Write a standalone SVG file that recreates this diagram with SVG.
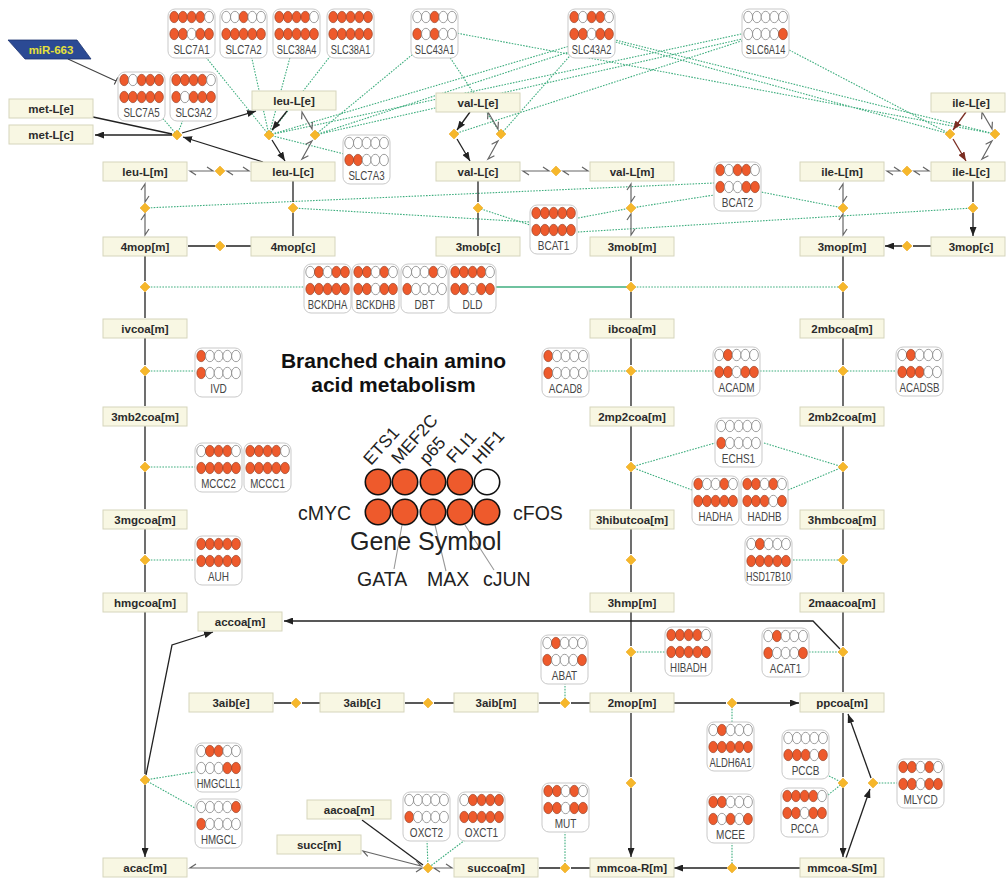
<svg xmlns="http://www.w3.org/2000/svg" xmlns:xlink="http://www.w3.org/1999/xlink" width="1006" height="881" viewBox="0 0 1006 881">
<style>
.mb{fill:#f8f7e3;stroke:#d6d5bc;stroke-width:1}
.mt{font:bold 11.5px "Liberation Sans",Arial,sans-serif;fill:#2b2b2b;text-anchor:middle}
.gb{fill:#fff;stroke:#c9c9c9;stroke-width:1}
.gl{font:12.5px "Liberation Sans",Arial,sans-serif;fill:#454545;text-anchor:middle}
.ar{stroke:#222;stroke-width:1.3;fill:none;marker-end:url(#ah)}
.pl{stroke:#222;stroke-width:1.3;fill:none}
.br{stroke:#7b2d22;stroke-width:1.3;fill:none;marker-end:url(#ahb)}
.hv{stroke:#666;stroke-width:1.2;fill:none}
.en{stroke:#3fae7f;stroke-width:1.1;stroke-dasharray:1.6 1.3;fill:none}
.es{stroke:#3fae7f;stroke-width:1.6;fill:none}
.lg{font:19.5px "Liberation Sans",Arial,sans-serif;fill:#222}
.lr{font:17.5px "Liberation Sans",Arial,sans-serif;fill:#222}
.tt{font:bold 21px "Liberation Sans",Arial,sans-serif;fill:#111;text-anchor:middle}
.lc{stroke:#111;stroke-width:1.6}
</style>
<defs>
<marker id="ah" viewBox="0 0 9 7" refX="9" refY="3.5" markerWidth="9" markerHeight="7" markerUnits="userSpaceOnUse" orient="auto"><path d="M0,0L9,3.5L0,7z" fill="#222"/></marker>
<marker id="ahb" viewBox="0 0 9 7" refX="9" refY="3.5" markerWidth="9" markerHeight="7" markerUnits="userSpaceOnUse" orient="auto"><path d="M0,0L9,3.5L0,7z" fill="#7b2d22"/></marker>
<path id="dm" d="M0,-5L5,0L0,5L-5,0z" fill="#f6b72b" stroke="#eaa51c" stroke-width="0.5"/>
<ellipse id="on" rx="4.4" ry="5.7" fill="#ee5a2c" stroke="#8a3a22" stroke-width="0.6"/>
<ellipse id="of" rx="4.4" ry="5.7" fill="#fff" stroke="#777" stroke-width="0.7"/>
<g id="p11110"><use href="#on" x="6.2"/><use href="#on" x="14.9"/><use href="#on" x="23.6"/><use href="#on" x="32.3"/><use href="#of" x="41"/></g>
<g id="p11011"><use href="#on" x="6.2"/><use href="#on" x="14.9"/><use href="#of" x="23.6"/><use href="#on" x="32.3"/><use href="#on" x="41"/></g>
<g id="p00100"><use href="#of" x="6.2"/><use href="#of" x="14.9"/><use href="#on" x="23.6"/><use href="#of" x="32.3"/><use href="#of" x="41"/></g>
<g id="p11111"><use href="#on" x="6.2"/><use href="#on" x="14.9"/><use href="#on" x="23.6"/><use href="#on" x="32.3"/><use href="#on" x="41"/></g>
<g id="p10100"><use href="#on" x="6.2"/><use href="#of" x="14.9"/><use href="#on" x="23.6"/><use href="#of" x="32.3"/><use href="#of" x="41"/></g>
<g id="p10110"><use href="#on" x="6.2"/><use href="#of" x="14.9"/><use href="#on" x="23.6"/><use href="#on" x="32.3"/><use href="#of" x="41"/></g>
<g id="p00000"><use href="#of" x="6.2"/><use href="#of" x="14.9"/><use href="#of" x="23.6"/><use href="#of" x="32.3"/><use href="#of" x="41"/></g>
<g id="p00001"><use href="#of" x="6.2"/><use href="#of" x="14.9"/><use href="#of" x="23.6"/><use href="#of" x="32.3"/><use href="#on" x="41"/></g>
<g id="p10111"><use href="#on" x="6.2"/><use href="#of" x="14.9"/><use href="#on" x="23.6"/><use href="#on" x="32.3"/><use href="#on" x="41"/></g>
<g id="p11000"><use href="#on" x="6.2"/><use href="#on" x="14.9"/><use href="#of" x="23.6"/><use href="#of" x="32.3"/><use href="#of" x="41"/></g>
<g id="p10011"><use href="#on" x="6.2"/><use href="#of" x="14.9"/><use href="#of" x="23.6"/><use href="#on" x="32.3"/><use href="#on" x="41"/></g>
<g id="p01011"><use href="#of" x="6.2"/><use href="#on" x="14.9"/><use href="#of" x="23.6"/><use href="#on" x="32.3"/><use href="#on" x="41"/></g>
<g id="p11010"><use href="#on" x="6.2"/><use href="#on" x="14.9"/><use href="#of" x="23.6"/><use href="#on" x="32.3"/><use href="#of" x="41"/></g>
<g id="p00010"><use href="#of" x="6.2"/><use href="#of" x="14.9"/><use href="#of" x="23.6"/><use href="#on" x="32.3"/><use href="#of" x="41"/></g>
<g id="p10000"><use href="#on" x="6.2"/><use href="#of" x="14.9"/><use href="#of" x="23.6"/><use href="#of" x="32.3"/><use href="#of" x="41"/></g>
<g id="p01000"><use href="#of" x="6.2"/><use href="#on" x="14.9"/><use href="#of" x="23.6"/><use href="#of" x="32.3"/><use href="#of" x="41"/></g>
<g id="p11100"><use href="#on" x="6.2"/><use href="#on" x="14.9"/><use href="#on" x="23.6"/><use href="#of" x="32.3"/><use href="#of" x="41"/></g>
<g id="p01110"><use href="#of" x="6.2"/><use href="#on" x="14.9"/><use href="#on" x="23.6"/><use href="#on" x="32.3"/><use href="#of" x="41"/></g>
<g id="p10010"><use href="#on" x="6.2"/><use href="#of" x="14.9"/><use href="#of" x="23.6"/><use href="#on" x="32.3"/><use href="#of" x="41"/></g>
<g id="p11101"><use href="#on" x="6.2"/><use href="#on" x="14.9"/><use href="#on" x="23.6"/><use href="#of" x="32.3"/><use href="#on" x="41"/></g>
<g id="p10001"><use href="#on" x="6.2"/><use href="#of" x="14.9"/><use href="#of" x="23.6"/><use href="#of" x="32.3"/><use href="#on" x="41"/></g>
<g id="p10101"><use href="#on" x="6.2"/><use href="#of" x="14.9"/><use href="#on" x="23.6"/><use href="#of" x="32.3"/><use href="#on" x="41"/></g>
<g id="p01111"><use href="#of" x="6.2"/><use href="#on" x="14.9"/><use href="#on" x="23.6"/><use href="#on" x="32.3"/><use href="#on" x="41"/></g>
<g id="p01100"><use href="#of" x="6.2"/><use href="#on" x="14.9"/><use href="#on" x="23.6"/><use href="#of" x="32.3"/><use href="#of" x="41"/></g>
<g id="p00011"><use href="#of" x="6.2"/><use href="#of" x="14.9"/><use href="#of" x="23.6"/><use href="#on" x="32.3"/><use href="#on" x="41"/></g>
</defs>
<rect width="1006" height="881" fill="#fff"/>

<g id="connectors">
<g id="enzyme-links">
<path class="en" d="M177,135L160,115M177,135L185,115"/>
<path class="en" d="M269,135L200,50M269,135L250,50M269,135L292,50M269,135L335,50M269,135L360,158M269,135L590,40M269,135L760,30"/>
<path class="en" d="M315,135L430,40M315,135L590,45M315,135L760,35"/>
<path class="en" d="M454,134L760,35M501,134L445,50M501,134L575,50"/>
<path class="en" d="M950,134L770,40M950,134L590,35M995,134L440,30M995,134L595,35"/>
<path class="en" d="M145,208L714,183M293,208L530,222M478,208L530,225M631,208L578,218M631,208L714,195M843,208L761,192M973,208L578,232"/>
<path class="en" d="M145,287H304M631,287H843"/>
<path class="es" d="M496,287H631"/>
<path class="en" d="M145,371H195M589,371H713M760,371H896"/>
<path class="en" d="M145,467H195M631,467L715,443M764,443L843,467M631,467L692,490M788,490L843,467"/>
<path class="en" d="M145,560H195M793,560H843M631,652H665M809,652H843"/>
<path class="en" d="M565,683V703M732,703V722M829,776L843,783M828,795L843,783M873,783H897M732,842V868M565,831V868M427,840L428,868M465,840L428,868"/>
<path class="en" d="M145,780L195,772M145,780L195,808"/>
</g>
<g id="reaction-edges">
<path class="pl" d="M93,117L172,134"/>
<path class="ar" d="M172,135H95"/>
<path class="ar" d="M263,162L183,137"/>
<path class="ar" d="M182,133L256,111"/>
<path class="ar" d="M287,111L272,130"/>
<path class="ar" d="M272,140L285,161"/>
<path class="ar" d="M470,112L457,130"/>
<path class="ar" d="M457,139L470,161"/>
<path class="br" d="M966,112L953,130"/>
<path class="br" d="M953,139L966,161"/>
<path class="ar" d="M293,181V202M293,213V236M478,181V202M478,213V236M973,181V202M973,213V236"/>
<path class="ar" d="M251,246H226M215,246H188M931,246H913M902,246H885"/>
<path class="ar" d="M145,256V281M145,292V318M145,338V365M145,376V406M145,426V461M145,472V509M145,529V554M145,565V592M145,612V774M145,785V857"/>
<path class="ar" d="M631,256V281M631,292V318M631,338V365M631,376V406M631,426V461M631,472V509M631,529V554M631,565V592M631,612V646M631,657V692M631,713V777M631,788V857"/>
<path class="ar" d="M843,256V281M843,292V318M843,338V365M843,376V406M843,426V461M843,472V509M843,529V554M843,565V592M843,612V646M843,657V692M843,713V777M843,788V857"/>
<path class="ar" d="M590,703H571M560,703H539M454,703H434M423,703H405M320,703H302M291,703H274M673,703H726M737,703H799"/>
<path class="ar" d="M590,868H571M560,868H539M800,868H738M727,868H674"/>
<path class="ar" d="M846,858L870,789"/>
<path class="ar" d="M871,778L848,714"/>
<path class="ar" d="M840,649L813,621H284"/>
<path class="ar" d="M146,775L172,645L213,632"/>
<path class="pl" d="M362,820L423,865"/>
<path class="hv" d="M196,175L190,171H213L207,167M233,175L227,171H249L243,167"/>
<path class="hv" d="M529,175L523,171H549L543,167M569,175L563,171H588L582,167"/>
<path class="hv" d="M893,175L887,171H900L894,167M920,175L914,171H929L923,167"/>
<path class="hv" d="M141,190L145,184V202L149,196M141,220L145,214V235L149,229"/>
<path class="hv" d="M627,190L631,184V202L635,196M627,220L631,214V235L635,229"/>
<path class="hv" d="M839,190L843,184V202L847,196M839,220L843,214V235L847,229"/>
<path class="hv" d="M301.6,119.2L302,112L312,129L312.4,121.8M305.6,144.3L312,141L302,159L308.4,155.7"/>
<path class="hv" d="M487.6,119.2L488,112L498,129L498.4,121.8M491.6,144.3L498,141L488,159L494.4,155.7"/>
<path class="hv" d="M981.6,119.2L982,112L992,129L992.4,121.8M985.6,144.3L992,141L982,159L988.4,155.7"/>
<path class="hv" d="M196,864L190,868H422L416,872M367.8,856.4L363,851L421,866L416.2,860.6M440,872L434,868H452L446,864"/>
<path d="M68,59L116,81M117.7,77.4L114.3,84.6" stroke="#444" stroke-width="1.1" fill="none"/>
</g>
</g>

<g id="mir">
<polygon points="8,40 77,40 91,59 25,59" fill="#2b4a94" stroke="#1d3470" stroke-width="0.8"/>
<text x="51" y="54" text-anchor="middle" font-family="Liberation Sans, Arial, sans-serif" font-weight="bold" font-size="11.5" fill="#e6e13a">miR-663</text>
</g>

<g id="metabolites">
<g id="met-L_e"><rect class="mb" x="9" y="99" width="84" height="19"/><text class="mt" x="51" y="113">met-L[e]</text></g>
<g id="met-L_c"><rect class="mb" x="9" y="125" width="84" height="19"/><text class="mt" x="51" y="139">met-L[c]</text></g>
<g id="leu-L_e"><rect class="mb" x="252" y="91" width="84" height="19"/><text class="mt" x="294" y="105">leu-L[e]</text></g>
<g id="leu-L_m"><rect class="mb" x="103" y="162" width="84" height="19"/><text class="mt" x="145" y="176">leu-L[m]</text></g>
<g id="leu-L_c"><rect class="mb" x="251" y="162" width="84" height="19"/><text class="mt" x="293" y="176">leu-L[c]</text></g>
<g id="val-L_e"><rect class="mb" x="436" y="93" width="84" height="19"/><text class="mt" x="478" y="107">val-L[e]</text></g>
<g id="val-L_c"><rect class="mb" x="436" y="162" width="84" height="19"/><text class="mt" x="478" y="176">val-L[c]</text></g>
<g id="val-L_m"><rect class="mb" x="590" y="162" width="84" height="19"/><text class="mt" x="632" y="176">val-L[m]</text></g>
<g id="ile-L_e"><rect class="mb" x="931" y="93" width="74" height="19"/><text class="mt" x="971" y="107">ile-L[e]</text></g>
<g id="ile-L_m"><rect class="mb" x="800" y="162" width="84" height="19"/><text class="mt" x="842" y="176">ile-L[m]</text></g>
<g id="ile-L_c"><rect class="mb" x="931" y="162" width="74" height="19"/><text class="mt" x="971" y="176">ile-L[c]</text></g>
<g id="4mop_m"><rect class="mb" x="103" y="237" width="84" height="19"/><text class="mt" x="145" y="251">4mop[m]</text></g>
<g id="4mop_c"><rect class="mb" x="251" y="237" width="84" height="19"/><text class="mt" x="293" y="251">4mop[c]</text></g>
<g id="3mob_c"><rect class="mb" x="436" y="237" width="84" height="19"/><text class="mt" x="478" y="251">3mob[c]</text></g>
<g id="3mob_m"><rect class="mb" x="590" y="237" width="84" height="19"/><text class="mt" x="632" y="251">3mob[m]</text></g>
<g id="3mop_m"><rect class="mb" x="800" y="237" width="84" height="19"/><text class="mt" x="842" y="251">3mop[m]</text></g>
<g id="3mop_c"><rect class="mb" x="931" y="237" width="74" height="19"/><text class="mt" x="971" y="251">3mop[c]</text></g>
<g id="ivcoa_m"><rect class="mb" x="103" y="319" width="84" height="19"/><text class="mt" x="145" y="333">ivcoa[m]</text></g>
<g id="ibcoa_m"><rect class="mb" x="590" y="319" width="84" height="19"/><text class="mt" x="632" y="333">ibcoa[m]</text></g>
<g id="2mbcoa_m"><rect class="mb" x="800" y="319" width="84" height="19"/><text class="mt" x="842" y="333">2mbcoa[m]</text></g>
<g id="3mb2coa_m"><rect class="mb" x="103" y="407" width="84" height="19"/><text class="mt" x="145" y="421">3mb2coa[m]</text></g>
<g id="2mp2coa_m"><rect class="mb" x="590" y="407" width="84" height="19"/><text class="mt" x="632" y="421">2mp2coa[m]</text></g>
<g id="2mb2coa_m"><rect class="mb" x="800" y="407" width="84" height="19"/><text class="mt" x="842" y="421">2mb2coa[m]</text></g>
<g id="3mgcoa_m"><rect class="mb" x="103" y="510" width="84" height="19"/><text class="mt" x="145" y="524">3mgcoa[m]</text></g>
<g id="3hibutcoa_m"><rect class="mb" x="590" y="510" width="84" height="19"/><text class="mt" x="632" y="524">3hibutcoa[m]</text></g>
<g id="3hmbcoa_m"><rect class="mb" x="800" y="510" width="84" height="19"/><text class="mt" x="842" y="524">3hmbcoa[m]</text></g>
<g id="hmgcoa_m"><rect class="mb" x="103" y="593" width="84" height="19"/><text class="mt" x="145" y="607">hmgcoa[m]</text></g>
<g id="3hmp_m"><rect class="mb" x="590" y="593" width="84" height="19"/><text class="mt" x="632" y="607">3hmp[m]</text></g>
<g id="2maacoa_m"><rect class="mb" x="800" y="593" width="84" height="19"/><text class="mt" x="842" y="607">2maacoa[m]</text></g>
<g id="accoa_m"><rect class="mb" x="198" y="612" width="84" height="19"/><text class="mt" x="240" y="626">accoa[m]</text></g>
<g id="3aib_e"><rect class="mb" x="189" y="693" width="84" height="19"/><text class="mt" x="231" y="707">3aib[e]</text></g>
<g id="3aib_c"><rect class="mb" x="320" y="693" width="84" height="19"/><text class="mt" x="362" y="707">3aib[c]</text></g>
<g id="3aib_m"><rect class="mb" x="454" y="693" width="84" height="19"/><text class="mt" x="496" y="707">3aib[m]</text></g>
<g id="2mop_m"><rect class="mb" x="590" y="693" width="84" height="19"/><text class="mt" x="632" y="707">2mop[m]</text></g>
<g id="ppcoa_m"><rect class="mb" x="800" y="693" width="84" height="19"/><text class="mt" x="842" y="707">ppcoa[m]</text></g>
<g id="aacoa_m"><rect class="mb" x="307" y="800" width="84" height="19"/><text class="mt" x="349" y="814">aacoa[m]</text></g>
<g id="succ_m"><rect class="mb" x="277" y="835" width="84" height="19"/><text class="mt" x="319" y="849">succ[m]</text></g>
<g id="acac_m"><rect class="mb" x="103" y="858" width="84" height="19"/><text class="mt" x="145" y="872">acac[m]</text></g>
<g id="succoa_m"><rect class="mb" x="454" y="858" width="84" height="19"/><text class="mt" x="496" y="872">succoa[m]</text></g>
<g id="mmcoa-R_m"><rect class="mb" x="590" y="858" width="84" height="19"/><text class="mt" x="632" y="872">mmcoa-R[m]</text></g>
<g id="mmcoa-S_m"><rect class="mb" x="800" y="858" width="84" height="19"/><text class="mt" x="842" y="872">mmcoa-S[m]</text></g>
</g>

<g id="genes">
<g id="SLC7A1" transform="translate(168,9)"><rect class="gb" width="47" height="49" rx="7"/><use href="#p11110" y="8"/><use href="#p11011" y="25"/><text class="gl" transform="translate(23.5,45) scale(.78,1)">SLC7A1</text></g>
<g id="SLC7A2" transform="translate(220,9)"><rect class="gb" width="47" height="49" rx="7"/><use href="#p00100" y="8"/><use href="#p11111" y="25"/><text class="gl" transform="translate(23.5,45) scale(.78,1)">SLC7A2</text></g>
<g id="SLC38A4" transform="translate(273,9)"><rect class="gb" width="47" height="49" rx="7"/><use href="#p11110" y="8"/><use href="#p11111" y="25"/><text class="gl" transform="translate(23.5,45) scale(.74,1)">SLC38A4</text></g>
<g id="SLC38A1" transform="translate(327,9)"><rect class="gb" width="47" height="49" rx="7"/><use href="#p11111" y="8"/><use href="#p11111" y="25"/><text class="gl" transform="translate(23.5,45) scale(.74,1)">SLC38A1</text></g>
<g id="SLC43A1" transform="translate(411,9)"><rect class="gb" width="47" height="49" rx="7"/><use href="#p00100" y="8"/><use href="#p10100" y="25"/><text class="gl" transform="translate(23.5,45) scale(.74,1)">SLC43A1</text></g>
<g id="SLC43A2" transform="translate(568,9)"><rect class="gb" width="47" height="49" rx="7"/><use href="#p10110" y="8"/><use href="#p11011" y="25"/><text class="gl" transform="translate(23.5,45) scale(.74,1)">SLC43A2</text></g>
<g id="SLC6A14" transform="translate(742,9)"><rect class="gb" width="47" height="49" rx="7"/><use href="#p00000" y="8"/><use href="#p00001" y="25"/><text class="gl" transform="translate(23.5,45) scale(.74,1)">SLC6A14</text></g>
<g id="SLC7A5" transform="translate(118,72)"><rect class="gb" width="47" height="49" rx="7"/><use href="#p10111" y="8"/><use href="#p11111" y="25"/><text class="gl" transform="translate(23.5,45) scale(.78,1)">SLC7A5</text></g>
<g id="SLC3A2" transform="translate(170,72)"><rect class="gb" width="47" height="49" rx="7"/><use href="#p11110" y="8"/><use href="#p10111" y="25"/><text class="gl" transform="translate(23.5,45) scale(.78,1)">SLC3A2</text></g>
<g id="SLC7A3" transform="translate(343,135)"><rect class="gb" width="47" height="49" rx="7"/><use href="#p00000" y="8"/><use href="#p11000" y="25"/><text class="gl" transform="translate(23.5,45) scale(.78,1)">SLC7A3</text></g>
<g id="BCAT2" transform="translate(714,162)"><rect class="gb" width="47" height="49" rx="7"/><use href="#p10110" y="8"/><use href="#p10011" y="25"/><text class="gl" transform="translate(23.5,45) scale(.8,1)">BCAT2</text></g>
<g id="BCAT1" transform="translate(530,205)"><rect class="gb" width="47" height="49" rx="7"/><use href="#p11111" y="8"/><use href="#p11111" y="25"/><text class="gl" transform="translate(23.5,45) scale(.8,1)">BCAT1</text></g>
<g id="BCKDHA" transform="translate(304,264)"><rect class="gb" width="47" height="49" rx="7"/><use href="#p01011" y="8"/><use href="#p11111" y="25"/><text class="gl" transform="translate(23.5,45) scale(.76,1)">BCKDHA</text></g>
<g id="BCKDHB" transform="translate(352,264)"><rect class="gb" width="47" height="49" rx="7"/><use href="#p11010" y="8"/><use href="#p11011" y="25"/><text class="gl" transform="translate(23.5,45) scale(.76,1)">BCKDHB</text></g>
<g id="DBT" transform="translate(401,264)"><rect class="gb" width="47" height="49" rx="7"/><use href="#p00010" y="8"/><use href="#p10000" y="25"/><text class="gl" transform="translate(23.5,45) scale(.8,1)">DBT</text></g>
<g id="DLD" transform="translate(449,264)"><rect class="gb" width="47" height="49" rx="7"/><use href="#p11110" y="8"/><use href="#p11011" y="25"/><text class="gl" transform="translate(23.5,45) scale(.8,1)">DLD</text></g>
<g id="IVD" transform="translate(195,348)"><rect class="gb" width="47" height="49" rx="7"/><use href="#p10000" y="8"/><use href="#p10000" y="25"/><text class="gl" transform="translate(23.5,45) scale(.8,1)">IVD</text></g>
<g id="ACAD8" transform="translate(542,348)"><rect class="gb" width="47" height="49" rx="7"/><use href="#p10000" y="8"/><use href="#p10000" y="25"/><text class="gl" transform="translate(23.5,45) scale(.8,1)">ACAD8</text></g>
<g id="ACADM" transform="translate(713,347)"><rect class="gb" width="47" height="49" rx="7"/><use href="#p01000" y="8"/><use href="#p11011" y="25"/><text class="gl" transform="translate(23.5,45) scale(.8,1)">ACADM</text></g>
<g id="ACADSB" transform="translate(896,347)"><rect class="gb" width="47" height="49" rx="7"/><use href="#p01000" y="8"/><use href="#p11100" y="25"/><text class="gl" transform="translate(23.5,45) scale(.78,1)">ACADSB</text></g>
<g id="ECHS1" transform="translate(715,418)"><rect class="gb" width="47" height="49" rx="7"/><use href="#p00000" y="8"/><use href="#p10000" y="25"/><text class="gl" transform="translate(23.5,45) scale(.8,1)">ECHS1</text></g>
<g id="MCCC2" transform="translate(195,443)"><rect class="gb" width="47" height="49" rx="7"/><use href="#p01110" y="8"/><use href="#p11111" y="25"/><text class="gl" transform="translate(23.5,45) scale(.78,1)">MCCC2</text></g>
<g id="MCCC1" transform="translate(244,443)"><rect class="gb" width="47" height="49" rx="7"/><use href="#p11110" y="8"/><use href="#p11111" y="25"/><text class="gl" transform="translate(23.5,45) scale(.78,1)">MCCC1</text></g>
<g id="HADHA" transform="translate(692,476)"><rect class="gb" width="47" height="49" rx="7"/><use href="#p10010" y="8"/><use href="#p11111" y="25"/><text class="gl" transform="translate(23.5,45) scale(.78,1)">HADHA</text></g>
<g id="HADHB" transform="translate(741,476)"><rect class="gb" width="47" height="49" rx="7"/><use href="#p11010" y="8"/><use href="#p11101" y="25"/><text class="gl" transform="translate(23.5,45) scale(.78,1)">HADHB</text></g>
<g id="AUH" transform="translate(195,536)"><rect class="gb" width="47" height="49" rx="7"/><use href="#p11111" y="8"/><use href="#p11111" y="25"/><text class="gl" transform="translate(23.5,45) scale(.8,1)">AUH</text></g>
<g id="HSD17B10" transform="translate(745,536)"><rect class="gb" width="47" height="49" rx="7"/><use href="#p01000" y="8"/><use href="#p11111" y="25"/><text class="gl" transform="translate(23.5,45) scale(.72,1)">HSD17B10</text></g>
<g id="HIBADH" transform="translate(665,627)"><rect class="gb" width="47" height="49" rx="7"/><use href="#p11110" y="8"/><use href="#p11111" y="25"/><text class="gl" transform="translate(23.5,45) scale(.78,1)">HIBADH</text></g>
<g id="ACAT1" transform="translate(762,628)"><rect class="gb" width="47" height="49" rx="7"/><use href="#p01000" y="8"/><use href="#p10001" y="25"/><text class="gl" transform="translate(23.5,45) scale(.8,1)">ACAT1</text></g>
<g id="ABAT" transform="translate(541,635)"><rect class="gb" width="47" height="49" rx="7"/><use href="#p01000" y="8"/><use href="#p10001" y="25"/><text class="gl" transform="translate(23.5,45) scale(.8,1)">ABAT</text></g>
<g id="ALDH6A1" transform="translate(707,722)"><rect class="gb" width="47" height="49" rx="7"/><use href="#p01000" y="8"/><use href="#p11111" y="25"/><text class="gl" transform="translate(23.5,45) scale(.76,1)">ALDH6A1</text></g>
<g id="PCCB" transform="translate(782,730)"><rect class="gb" width="47" height="49" rx="7"/><use href="#p00000" y="8"/><use href="#p11101" y="25"/><text class="gl" transform="translate(23.5,45) scale(.8,1)">PCCB</text></g>
<g id="MLYCD" transform="translate(897,759)"><rect class="gb" width="47" height="49" rx="7"/><use href="#p11010" y="8"/><use href="#p11011" y="25"/><text class="gl" transform="translate(23.5,45) scale(.8,1)">MLYCD</text></g>
<g id="PCCA" transform="translate(781,788)"><rect class="gb" width="47" height="49" rx="7"/><use href="#p11110" y="8"/><use href="#p11011" y="25"/><text class="gl" transform="translate(23.5,45) scale(.8,1)">PCCA</text></g>
<g id="MCEE" transform="translate(707,794)"><rect class="gb" width="47" height="49" rx="7"/><use href="#p11000" y="8"/><use href="#p10101" y="25"/><text class="gl" transform="translate(23.5,45) scale(.8,1)">MCEE</text></g>
<g id="MUT" transform="translate(542,783)"><rect class="gb" width="47" height="49" rx="7"/><use href="#p11010" y="8"/><use href="#p11011" y="25"/><text class="gl" transform="translate(23.5,45) scale(.8,1)">MUT</text></g>
<g id="OXCT2" transform="translate(403,792)"><rect class="gb" width="47" height="49" rx="7"/><use href="#p00000" y="8"/><use href="#p10000" y="25"/><text class="gl" transform="translate(23.5,45) scale(.8,1)">OXCT2</text></g>
<g id="OXCT1" transform="translate(458,792)"><rect class="gb" width="47" height="49" rx="7"/><use href="#p01111" y="8"/><use href="#p11111" y="25"/><text class="gl" transform="translate(23.5,45) scale(.8,1)">OXCT1</text></g>
<g id="HMGCLL1" transform="translate(195,743)"><rect class="gb" width="47" height="49" rx="7"/><use href="#p01100" y="8"/><use href="#p00011" y="25"/><text class="gl" transform="translate(23.5,45) scale(.74,1)">HMGCLL1</text></g>
<g id="HMGCL" transform="translate(195,799)"><rect class="gb" width="47" height="49" rx="7"/><use href="#p00001" y="8"/><use href="#p10000" y="25"/><text class="gl" transform="translate(23.5,45) scale(.78,1)">HMGCL</text></g>
</g>

<g id="reactions">
<use href="#dm" x="177" y="135"/><use href="#dm" x="269" y="135"/><use href="#dm" x="315" y="135"/><use href="#dm" x="454" y="134"/><use href="#dm" x="501" y="134"/><use href="#dm" x="950" y="134"/><use href="#dm" x="995" y="134"/>
<use href="#dm" x="220" y="171"/><use href="#dm" x="556" y="171"/><use href="#dm" x="907" y="171"/>
<use href="#dm" x="145" y="208"/><use href="#dm" x="293" y="208"/><use href="#dm" x="478" y="208"/><use href="#dm" x="631" y="208"/><use href="#dm" x="843" y="208"/><use href="#dm" x="973" y="208"/>
<use href="#dm" x="220" y="246"/><use href="#dm" x="907" y="246"/>
<use href="#dm" x="145" y="287"/><use href="#dm" x="631" y="287"/><use href="#dm" x="843" y="287"/>
<use href="#dm" x="145" y="371"/><use href="#dm" x="631" y="371"/><use href="#dm" x="843" y="371"/>
<use href="#dm" x="145" y="467"/><use href="#dm" x="631" y="467"/><use href="#dm" x="843" y="467"/>
<use href="#dm" x="145" y="560"/><use href="#dm" x="631" y="560"/><use href="#dm" x="843" y="560"/>
<use href="#dm" x="631" y="652"/><use href="#dm" x="843" y="652"/>
<use href="#dm" x="296" y="703"/><use href="#dm" x="428" y="703"/><use href="#dm" x="565" y="703"/><use href="#dm" x="732" y="703"/>
<use href="#dm" x="145" y="780"/><use href="#dm" x="631" y="783"/><use href="#dm" x="843" y="783"/><use href="#dm" x="873" y="783"/>
<use href="#dm" x="428" y="868"/><use href="#dm" x="565" y="868"/><use href="#dm" x="732" y="868"/>
</g>

<g id="title">
<text class="tt" x="393.5" y="368">Branched chain amino</text>
<text class="tt" x="393.5" y="392">acid metabolism</text>
</g>

<g id="legend">
<path d="M394,569L402,525M446,571L435,525M494,570L465,525" stroke="#999" stroke-width="1.1" fill="none"/>
<circle class="lc" cx="378" cy="482" r="12.7" fill="#ee5a2c"/><circle class="lc" cx="405" cy="482" r="12.7" fill="#ee5a2c"/><circle class="lc" cx="433" cy="482" r="12.7" fill="#ee5a2c"/><circle class="lc" cx="460" cy="482" r="12.7" fill="#ee5a2c"/><circle class="lc" cx="487" cy="482" r="12.7" fill="#fff"/>
<circle class="lc" cx="378" cy="512" r="12.7" fill="#ee5a2c"/><circle class="lc" cx="405" cy="512" r="12.7" fill="#ee5a2c"/><circle class="lc" cx="433" cy="512" r="12.7" fill="#ee5a2c"/><circle class="lc" cx="460" cy="512" r="12.7" fill="#ee5a2c"/><circle class="lc" cx="487" cy="512" r="12.7" fill="#ee5a2c"/>
<text class="lr" transform="translate(371,466) rotate(-48)">ETS1</text>
<text class="lr" transform="translate(399,465) rotate(-48)">MEF2C</text>
<text class="lr" transform="translate(427,465) rotate(-48)">p65</text>
<text class="lr" transform="translate(454,464) rotate(-48)">FLI1</text>
<text class="lr" transform="translate(480,465) rotate(-48)">HIF1</text>
<text class="lg" x="298" y="519.5">cMYC</text>
<text class="lg" x="513" y="519.5">cFOS</text>
<text x="350" y="550" font-family="Liberation Sans, Arial, sans-serif" font-size="25" fill="#222">Gene Symbol</text>
<text class="lg" x="357" y="586">GATA</text>
<text class="lg" x="427" y="586">MAX</text>
<text class="lg" x="483" y="586">cJUN</text>
</g>
</svg>
